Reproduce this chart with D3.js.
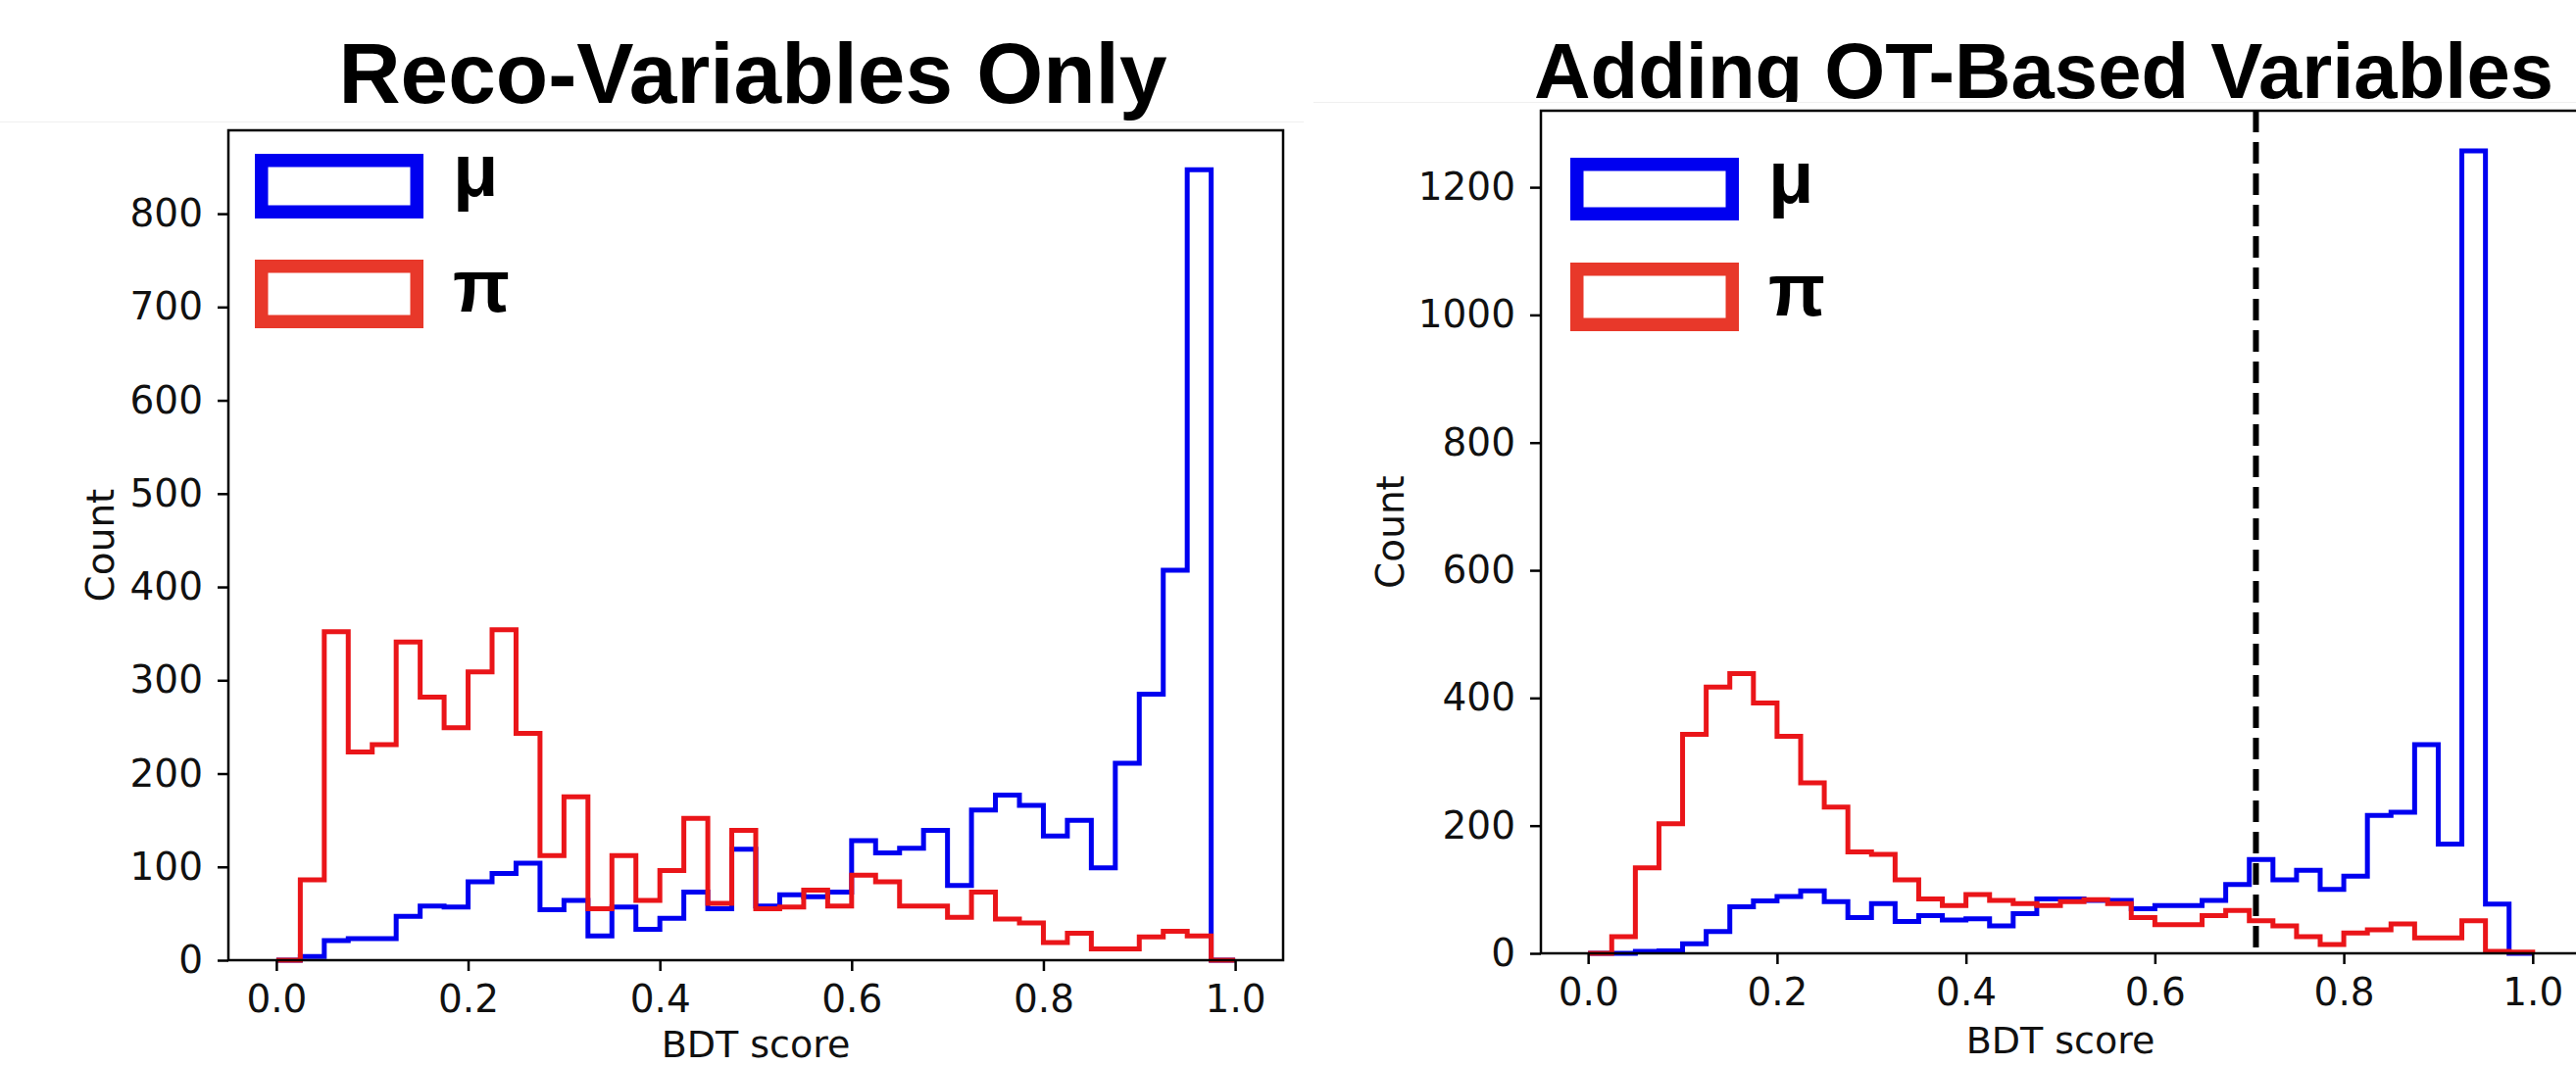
<!DOCTYPE html>
<html>
<head>
<meta charset="utf-8">
<script src="https://cdn.jsdelivr.net/npm/d3@7"></script>
<style>
  body { margin: 0; background: #fff; }
  svg { display: block; }
</style>
</head>
<body>
<script>
// histogram counts, 40 bins of width 0.025 on [0, 1]
const binCount = 40;
const recoMu = [0, 4, 21, 23, 23, 47, 58, 57, 84, 93, 104, 54, 64, 26, 57, 33, 45, 73, 55, 119,
                58, 70, 68, 73, 128, 115, 120, 139, 80, 161, 177, 166, 133, 150, 99, 211, 285, 418, 847, 0];
const recoPi = [0, 86, 352, 223, 231, 341, 282, 249, 309, 354, 243, 112, 175, 55, 112, 64, 96, 152, 61, 139,
                55, 57, 75, 58, 91, 84, 58, 58, 46, 73, 44, 40, 19, 29, 12, 12, 25, 31, 26, 0];
const otMu = [0, 0, 3, 4, 15, 34, 73, 82, 89, 98, 81, 56, 78, 50, 59, 52, 54, 43, 62, 85,
              85, 83, 83, 70, 75, 75, 83, 108, 147, 115, 130, 100, 121, 216, 221, 327, 171, 1257, 77, 0];
const otPi = [0, 26, 134, 203, 343, 417, 438, 392, 340, 267, 229, 159, 155, 115, 85, 75, 92, 83, 78, 75,
              81, 84, 78, 56, 45, 45, 59, 67, 51, 43, 26, 14, 32, 37, 46, 24, 24, 51, 3, 2];
const xTicks = [0, 0.2, 0.4, 0.6, 0.8, 1.0];
const recoYTicks = [0, 100, 200, 300, 400, 500, 600, 700, 800];
const otYTicks = [0, 200, 400, 600, 800, 1000, 1200];
const cutValue = 0.707;
const titles = ["Reco-Variables Only", "Adding OT-Based Variables"];
const legendLabels = ["μ", "π"];

const blue = "#0000f0";
const red = "#ea1519";
const legendRed = "#e8382a";

let svg = d3.select("body")
    .append("svg")
    .attr("width", 2628)
    .attr("height", 1088);

// layout of the two pasted panels
let panels = [
    {title: titles[0], titleX: 768, titleY: 105, titleSize: 88, titleLen: 845,
     imgX: 0, imgY: 124, imgW: 1330,
     left: 233, top: 133, width: 1076, height: 847,
     mu: recoMu, pi: recoPi, yTicks: recoYTicks, cut: null,
     legX: 260, legY: [157, 265], legH: [66, 70], legTextX: 462, legTextY: [200, 318],
     countX: 116, xLabelY: 1079},
    {title: titles[1], titleX: 2085, titleY: 100, titleSize: 80, titleLen: 1040,
     imgX: 1340, imgY: 104, imgW: 1288,
     left: 1572, top: 113, width: 1060, height: 860,
     mu: otMu, pi: otPi, yTicks: otYTicks, cut: cutValue,
     legX: 1602, legY: [161, 268], legH: [64, 70], legTextX: 1804, legTextY: [207, 322],
     countX: 1432, xLabelY: 1075}
];

panels.forEach(p => {
    // title sits behind the pasted plot image
    svg.append("text")
        .attr("x", p.titleX)
        .attr("y", p.titleY)
        .attr("text-anchor", "middle")
        .attr("font-family", "Liberation Sans, Arial, sans-serif")
        .attr("font-weight", "bold")
        .attr("font-size", p.titleSize)
        .attr("textLength", p.titleLen)
        .attr("lengthAdjust", "spacingAndGlyphs")
        .text(p.title);

    svg.append("rect")
        .attr("x", p.imgX)
        .attr("y", p.imgY)
        .attr("width", p.imgW)
        .attr("height", 1088 - p.imgY)
        .attr("fill", "#fff");
    svg.append("line")
        .attr("x1", p.imgX).attr("x2", p.imgX + p.imgW)
        .attr("y1", p.imgY + 0.5).attr("y2", p.imgY + 0.5)
        .attr("stroke", "#f0f0f0")
        .attr("stroke-width", 1);

    let g = svg.append("g").attr("transform", `translate(${p.left},${p.top})`);

    let x = d3.scaleLinear()
        .domain([-0.05, 1.05])
        .range([0, p.width]);
    let y = d3.scaleLinear()
        .domain([0, d3.max(p.mu.concat(p.pi)) * 1.05])
        .range([p.height, 0]);

    let binWidth = 1 / binCount;
    let stepPoints = counts => {
        let pts = [];
        counts.forEach((c, i) => {
            pts.push([i * binWidth, c]);
            pts.push([(i + 1) * binWidth, c]);
        });
        pts.unshift([0, 0]);
        pts.push([1, 0]);
        return pts;
    };
    let line = d3.line()
        .x(d => x(d[0]))
        .y(d => y(d[1]));

    // mu drawn first, pi on top
    [[p.mu, blue], [p.pi, red]].forEach(s => {
        g.append("path")
            .datum(stepPoints(s[0]))
            .attr("d", line)
            .attr("fill", "none")
            .attr("stroke", s[1])
            .attr("stroke-width", 5)
            .attr("stroke-linejoin", "miter");
    });

    if (p.cut !== null) {
        g.append("line")
            .attr("x1", x(p.cut)).attr("x2", x(p.cut))
            .attr("y1", 0).attr("y2", p.height)
            .attr("stroke", "#000")
            .attr("stroke-width", 6)
            .attr("stroke-dasharray", "22,10");
    }

    // axes
    let xAxis = g.append("g")
        .attr("transform", `translate(0,${p.height})`)
        .call(d3.axisBottom(x).tickValues(xTicks).tickFormat(d3.format(".1f"))
            .tickSize(11).tickSizeOuter(0).tickPadding(14));
    let yAxis = g.append("g")
        .call(d3.axisLeft(y).tickValues(p.yTicks).tickFormat(d3.format("d"))
            .tickSize(11).tickSizeOuter(0).tickPadding(15));
    [xAxis, yAxis].forEach(a => {
        a.select(".domain").remove();
        a.selectAll("line").attr("stroke", "#000").attr("stroke-width", 2.5);
        a.selectAll("text")
            .attr("font-family", "DejaVu Sans, sans-serif")
            .attr("font-size", 39)
            .attr("fill", "#111");
    });

    // frame
    g.append("rect")
        .attr("width", p.width)
        .attr("height", p.height)
        .attr("fill", "none")
        .attr("stroke", "#000")
        .attr("stroke-width", 2.5);

    svg.append("text")
        .attr("x", p.left + x(0.5))
        .attr("y", p.xLabelY)
        .attr("text-anchor", "middle")
        .attr("font-family", "DejaVu Sans, sans-serif")
        .attr("font-size", 38)
        .attr("fill", "#111")
        .text("BDT score");

    svg.append("text")
        .attr("transform", `translate(${p.countX},${p.top + p.height / 2}) rotate(-90)`)
        .attr("text-anchor", "middle")
        .attr("font-family", "DejaVu Sans, sans-serif")
        .attr("font-size", 39)
        .attr("fill", "#111")
        .text("Count");

    // legend
    [blue, legendRed].forEach((c, i) => {
        svg.append("rect")
            .attr("x", p.legX + 6.75)
            .attr("y", p.legY[i] + 6.75)
            .attr("width", 172 - 13.5)
            .attr("height", p.legH[i] - 13.5)
            .attr("fill", "none")
            .attr("stroke", c)
            .attr("stroke-width", 13.5);
        svg.append("text")
            .attr("x", p.legTextX)
            .attr("y", p.legTextY[i])
            .attr("font-family", "Liberation Sans, Arial, sans-serif")
            .attr("font-weight", "bold")
            .attr("font-size", 76)
            .text(legendLabels[i]);
    });
});
</script>
</body>
</html>
